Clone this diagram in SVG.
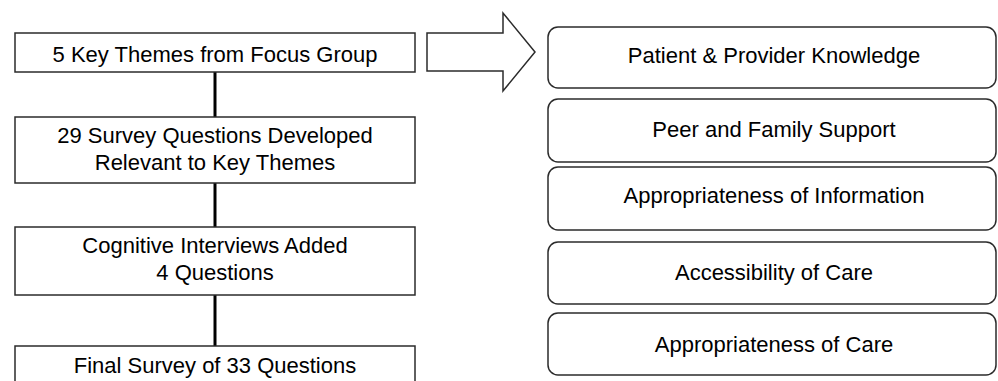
<svg xmlns="http://www.w3.org/2000/svg" width="998" height="381" viewBox="0 0 998 381">
  <style>
    .box { fill: #ffffff; stroke: #2b2b2b; stroke-width: 1.5; }
    .link { stroke: #000000; stroke-width: 3; fill: none; }
    .label { font-family: "Liberation Sans", Arial, sans-serif; font-size: 22px; fill: #000000; text-anchor: middle; }
  </style>
  <rect width="998" height="381" fill="#ffffff"/>

  <!-- vertical connectors between process steps -->
  <g id="connectors">
    <line class="link" x1="215" y1="72" x2="215" y2="117"/>
    <line class="link" x1="215" y1="183" x2="215" y2="227"/>
    <line class="link" x1="215" y1="295" x2="215" y2="346"/>
  </g>

  <!-- process steps -->
  <g id="step-themes">
    <rect class="box" x="15" y="33" width="400" height="39"/>
    <text class="label" x="215" y="62">5 Key Themes from Focus Group</text>
  </g>
  <g id="step-questions">
    <rect class="box" x="15" y="117" width="400" height="66"/>
    <text class="label" x="215" y="143">29 Survey Questions Developed</text>
    <text class="label" x="215" y="170">Relevant to Key Themes</text>
  </g>
  <g id="step-interviews">
    <rect class="box" x="15" y="227" width="400" height="68"/>
    <text class="label" x="215" y="253">Cognitive Interviews Added</text>
    <text class="label" x="215" y="280">4 Questions</text>
  </g>
  <g id="step-final">
    <rect class="box" x="15" y="346" width="400" height="40"/>
    <text class="label" x="215" y="373">Final Survey of 33 Questions</text>
  </g>

  <!-- block arrow pointing to the theme list -->
  <g id="arrow">
    <polygon class="box" points="427,33 503,33 503,13 535,52 503,91 503,71 427,71"/>
  </g>

  <!-- key themes -->
  <g id="theme-knowledge">
    <rect class="box" x="548" y="27" width="448" height="61" rx="10"/>
    <text class="label" x="774" y="63">Patient &amp; Provider Knowledge</text>
  </g>
  <g id="theme-support">
    <rect class="box" x="548" y="99" width="448" height="63" rx="10"/>
    <text class="label" x="774" y="137">Peer and Family Support</text>
  </g>
  <g id="theme-information">
    <rect class="box" x="548" y="167" width="448" height="63" rx="10"/>
    <text class="label" x="774" y="203">Appropriateness of Information</text>
  </g>
  <g id="theme-accessibility">
    <rect class="box" x="548" y="242" width="448" height="62" rx="10"/>
    <text class="label" x="774" y="280">Accessibility of Care</text>
  </g>
  <g id="theme-care">
    <rect class="box" x="548" y="313" width="448" height="62" rx="10"/>
    <text class="label" x="774" y="352">Appropriateness of Care</text>
  </g>
</svg>
